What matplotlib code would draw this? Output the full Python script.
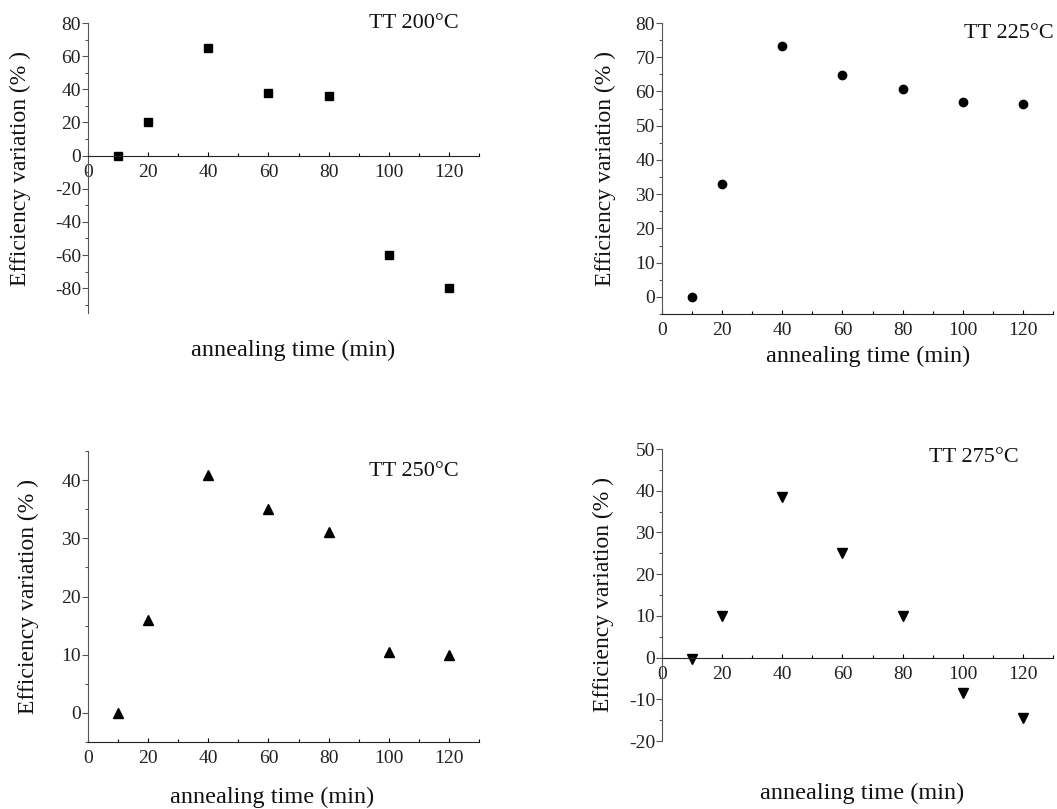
import matplotlib.pyplot as plt
from matplotlib.ticker import MultipleLocator

plt.rcParams['font.family'] = ['Liberation Serif', 'DejaVu Serif']
plt.rcParams['axes.unicode_minus'] = False

# annealing time (min)
t = [10, 20, 40, 60, 80, 100, 120]

# efficiency variation (%) for each treatment temperature
eff_200 = [0, 20, 65, 37.5, 36, -60, -80]
eff_225 = [0, 33, 73.3, 64.9, 60.7, 56.9, 56.3]
eff_250 = [0, 16, 40.9, 35, 31, 10.5, 10]
eff_275 = [-0.4, 10, 38.4, 25.1, 10, -8.4, -14.5]

labels = ['TT 200°C', 'TT 225°C', 'TT 250°C', 'TT 275°C']

fig = plt.figure(figsize=(10.57, 8.09), dpi=100)


def panel(rect, y, marker, ms, ylim, ymajor, yticks, title, title_xy,
          xlab_xy, ylab_x):
    ax = fig.add_axes(rect)
    ax.plot(t, y, linestyle='none', marker=marker, color='black',
            markersize=ms, clip_on=False)
    ax.set_xlim(0, 130)
    ax.set_ylim(*ylim)
    ax.set_xticks([0, 20, 40, 60, 80, 100, 120])
    ax.xaxis.set_minor_locator(MultipleLocator(10))
    ax.set_yticks(yticks)
    ax.yaxis.set_minor_locator(MultipleLocator(ymajor / 2))
    for s in ['top', 'right']:
        ax.spines[s].set_visible(False)
    ax.spines['left'].set_color('#555555')
    ax.spines['bottom'].set_color('#222222')
    # x axis crosses at zero when the range goes well below it
    if ylim[0] < -6:
        ax.spines['bottom'].set_position(('data', 0))
    ax.tick_params(axis='y', which='major', direction='out', length=4,
                   width=0.8, colors='#555555', labelcolor='#222222',
                   labelsize=14, pad=1)
    ax.tick_params(axis='y', which='minor', direction='out', length=2.5,
                   width=0.8, colors='#555555')
    ax.tick_params(axis='x', which='major', direction='in', length=3,
                   width=0.8, labelsize=14, pad=6, labelcolor='#222222')
    ax.tick_params(axis='x', which='minor', direction='in', length=2.5,
                   width=0.8)
    ax.patch.set_alpha(0)
    fig.text(*title_xy, title, fontsize=16, ha='right', va='center',
             color='#111111')
    fig.text(*xlab_xy, 'annealing time (min)', fontsize=17.5, ha='center',
             va='center', color='#111111')
    y0, y1 = rect[1], rect[1] + rect[3]
    fig.text(ylab_x, (y0 + y1) / 2, 'Efficiency variation (% )',
             fontsize=17, rotation=90, ha='center', va='center',
             color='#111111')
    return ax


W, H = 1057, 809


def fx(px):
    return px / W


def fy(py):
    return 1 - py / H


panel([fx(88), fy(313), fx(479 - 88), fy(23) - fy(313)], eff_200, 's', 5.5,
      (-95, 80), 20, [-80, -60, -40, -20, 0, 20, 40, 60, 80], labels[0],
      (fx(459), fy(23)), (fx(293), fy(350)), fx(20))

panel([fx(662), fy(314), fx(1053 - 662), fy(23) - fy(314)], eff_225, 'o', 6,
      (-5, 80), 10, list(range(0, 81, 10)), labels[1],
      (fx(1054), fy(33)), (fx(868), fy(356)), fx(605))

panel([fx(88), fy(742), fx(479 - 88), fy(451) - fy(742)], eff_250, '^', 7,
      (-5, 45), 10, [0, 10, 20, 30, 40], labels[2],
      (fx(459), fy(472)), (fx(272), fy(797)), fx(28))

panel([fx(662), fy(741), fx(1053 - 662), fy(449) - fy(741)], eff_275, 'v', 7,
      (-20, 50), 10, [-20, -10, 0, 10, 20, 30, 40, 50], labels[3],
      (fx(1019), fy(457)), (fx(862), fy(793)), fx(603))

fig.savefig('out.png', dpi=100, facecolor='white')
